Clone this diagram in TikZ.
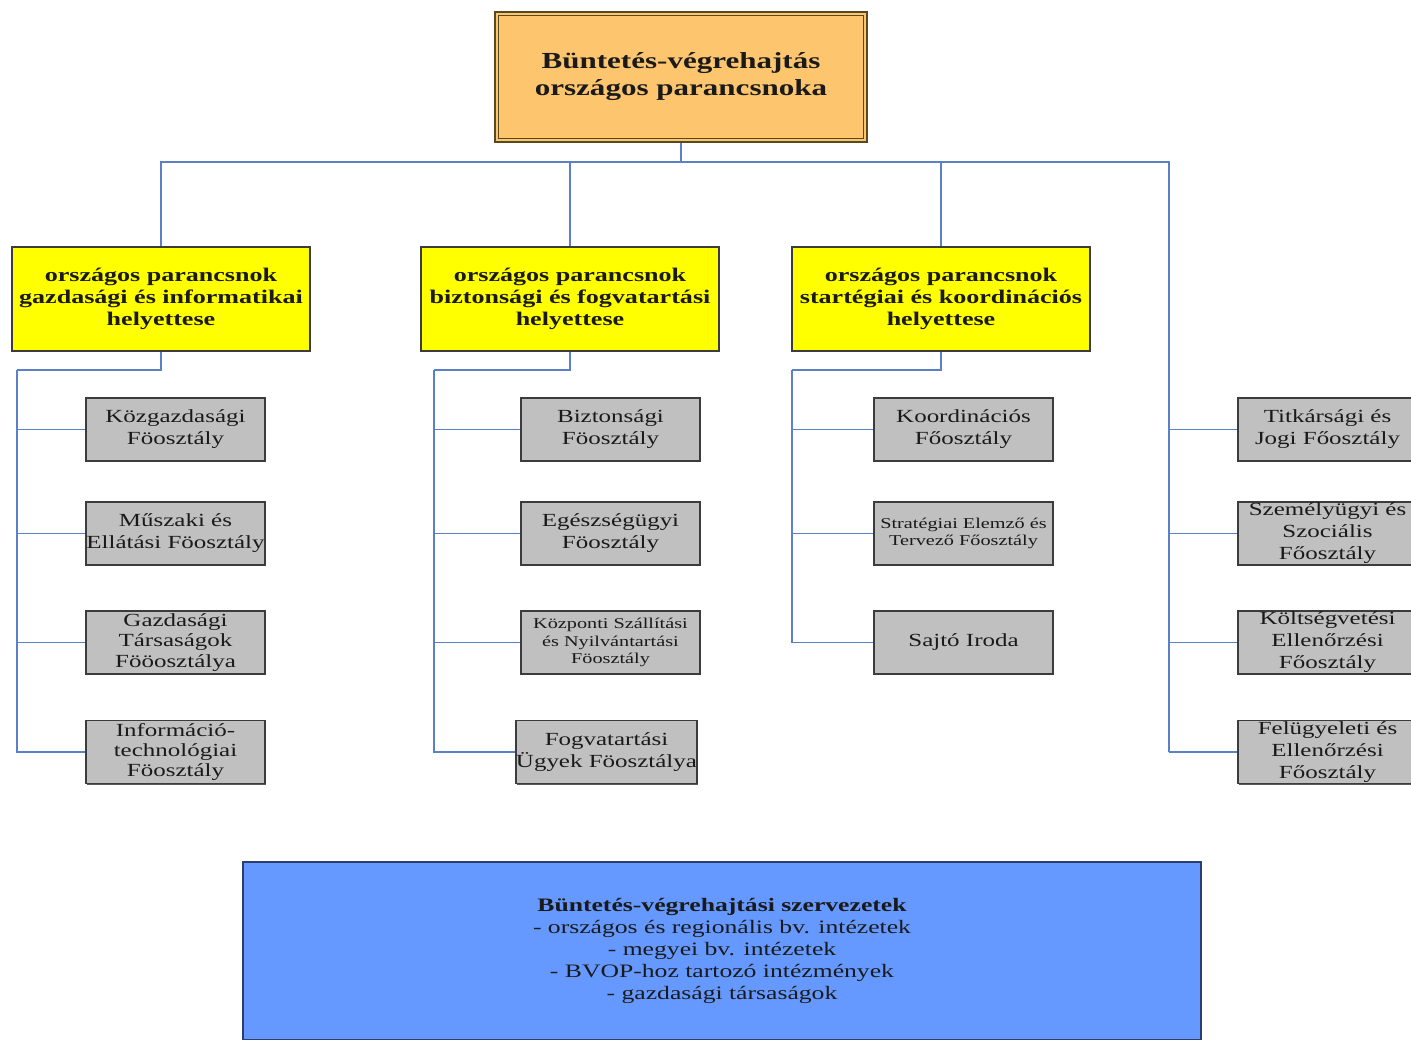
\documentclass[tikz,border=0pt]{standalone}
\usepackage{fontspec}
\setmainfont{Liberation Serif}[FakeStretch=1.35]
\usetikzlibrary{shadows}
\definecolor{chieffill}{HTML}{FDC66E}
\definecolor{chiefline}{HTML}{5A4820}
\definecolor{deputyfill}{HTML}{FFFF00}
\definecolor{boxline}{HTML}{3C3C3C}
\definecolor{deptfill}{HTML}{C0C0C0}
\definecolor{orgfill}{HTML}{6699FF}
\definecolor{orgline}{HTML}{2A3F6E}
\definecolor{wire}{HTML}{5B80C8}
\definecolor{ink}{HTML}{1A1A1A}
\begin{document}
\begin{tikzpicture}[x=1pt,y=-1pt,
  every node/.style={text=ink, align=center, inner sep=0pt},
  chief/.style={draw=chiefline, line width=1.6pt, fill=chieffill,
    minimum width=372pt, minimum height=130pt,
    font=\fontsize{23}{27}\selectfont\bfseries},
  deputy/.style={draw=boxline, line width=1.4pt, fill=deputyfill,
    minimum width=298pt, minimum height=104pt,
    font=\fontsize{19.3}{22}\selectfont\bfseries,
    drop shadow={shadow xshift=1pt, shadow yshift=-1pt, fill=black!60, opacity=1}},
  dept/.style={draw=boxline, line width=1.4pt, fill=deptfill,
    minimum width=179pt, minimum height=63pt,
    font=\fontsize{18.5}{22}\selectfont,
    drop shadow={shadow xshift=1.2pt, shadow yshift=-1.2pt, fill=black!65, opacity=1}},
  smalltext/.style={font=\fontsize{15}{17.5}\selectfont},
  org/.style={draw=orgline, line width=1.2pt, fill=orgfill,
    minimum width=958pt, minimum height=178pt,
    font=\fontsize{19}{22}\selectfont},
  conn/.style={draw=wire, line width=1.5pt},
]
\useasboundingbox (0,0) rectangle (1411,1039);
\clip (0,0) rectangle (1411,1039);

% head of the organisation
\node[chief] (top) at (681,77) {Büntetés-végrehajtás\\országos parancsnoka};
\draw[chiefline, line width=0.8pt] ([shift={(4,4)}]top.north west) rectangle ([shift={(-4,-4)}]top.south east);

% deputies
\node[deputy] (dep1) at (161,299) {országos parancsnok\\gazdasági és informatikai\\helyettese};
\node[deputy] (dep2) at (570,299) {országos parancsnok\\biztonsági és fogvatartási\\helyettese};
\node[deputy] (dep3) at (941,299) {országos parancsnok\\startégiai és koordinációs\\helyettese};

% departments under the first deputy
\node[dept] (a1) at (175.5,429.5) {Közgazdasági\\Föosztály};
\node[dept] (a2) at (175.5,533.5) {Műszaki és\\Ellátási Föosztály};
\node[dept, font=\fontsize{18.5}{20.5}\selectfont] (a3) at (175.5,642.5) {Gazdasági\\Társaságok\\Fööosztálya};
\node[dept, font=\fontsize{18.5}{20}\selectfont] (a4) at (175.5,752) {Információ-\\technológiai\\Föosztály};

% departments under the second deputy
\node[dept] (b1) at (610.5,429.5) {Biztonsági\\Föosztály};
\node[dept] (b2) at (610.5,533.5) {Egészségügyi\\Föosztály};
\node[dept, smalltext] (b3) at (610.5,642.5) {Központi Szállítási\\és Nyilvántartási\\Föosztály};
\node[dept] (b4) at (606.5,752) {Fogvatartási\\Ügyek Föosztálya};

% departments under the third deputy
\node[dept] (c1) at (963.5,429.5) {Koordinációs\\Főosztály};
\node[dept, smalltext] (c2) at (963.5,533.5) {Stratégiai Elemző és\\Tervező Főosztály};
\node[dept] (c3) at (963.5,642.5) {Sajtó Iroda};

% departments directly under the head
\node[dept] (d1) at (1327.5,429.5) {Titkársági és\\Jogi Főosztály};
\node[dept] (d2) at (1327.5,533.5) {Személyügyi és\\Szociális\\Főosztály};
\node[dept] (d3) at (1327.5,642.5) {Költségvetési\\Ellenőrzési\\Főosztály};
\node[dept] (d4) at (1327.5,752) {Felügyeleti és\\Ellenőrzési\\Főosztály};

% subordinate organisations
\node[org] (orgs) at (722,951) {\textbf{Büntetés-végrehajtási szervezetek}\\- országos és regionális bv. intézetek\\- megyei bv. intézetek\\- BVOP-hoz tartozó intézmények\\- gazdasági társaságok};

% main bus
\coordinate (hub) at (681,162);
\draw[conn] (hub) -| (dep1.north);
\draw[conn] (hub) -| (dep2.north);
\draw[conn] (hub) -| (dep3.north);
\coordinate (k4) at (1169,752);
\draw[conn] (hub) -| (k4);
\draw[conn, line width=2.8pt] (top.south) -- (hub);
\foreach \n in {d1,d2,d3,d4} \draw[conn] (k4) |- (\n.west);

% first deputy's bus
\coordinate (k1) at (17,370);
\draw[conn] (dep1.south) |- (k1);
\foreach \n in {a1,a2,a3,a4} \draw[conn] (k1) |- (\n.west);

% second deputy's bus
\coordinate (k2) at (434,370);
\draw[conn] (dep2.south) |- (k2);
\foreach \n in {b1,b2,b3,b4} \draw[conn] (k2) |- (\n.west);

% third deputy's bus
\coordinate (k3) at (792,370);
\draw[conn] (dep3.south) |- (k3);
\foreach \n in {c1,c2,c3} \draw[conn] (k3) |- (\n.west);
\end{tikzpicture}
\end{document}
